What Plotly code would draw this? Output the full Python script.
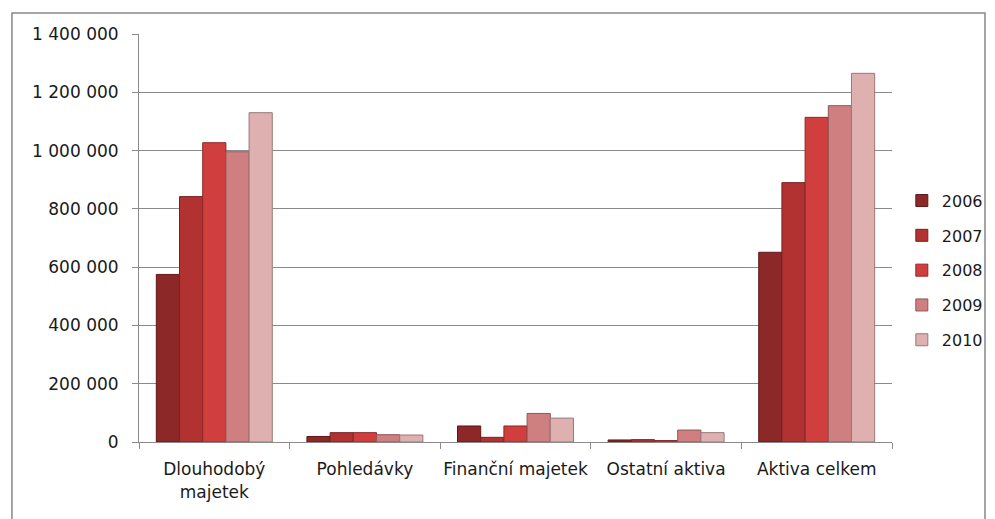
import plotly.graph_objects as go

CATEGORIES = ["Dlouhodobý<br>majetek", "Pohledávky", "Finanční majetek",
              "Ostatní aktiva", "Aktiva celkem"]
YEARS = ["2006", "2007", "2008", "2009", "2010"]

V2006 = [575000, 19000, 55000, 7000, 651000]
V2007 = [842000, 32000, 16000, 8000, 890000]
V2008 = [1027000, 32000, 55000, 5000, 1114000]
V2009 = [996000, 25000, 98000, 41000, 1154000]
V2010 = [1130000, 24000, 82000, 32000, 1265000]
SERIES = [V2006, V2007, V2008, V2009, V2010]

COLORS = ["#8c2828", "#b23232", "#d03e3e", "#cf7f7f", "#dfb0b0"]
EDGES = ["#5e1818", "#7a2020", "#8e2828", "#8e5656", "#9a7878"]

FONT = "DejaVu Sans"

fig = go.Figure()
for year, vals, col, edge in zip(YEARS, SERIES, COLORS, EDGES):
    fig.add_trace(go.Bar(
        x=CATEGORIES, y=vals, name=year, legendgroup=year,
        marker=dict(color=col, line=dict(color=edge, width=1)),
    ))

# the page body adds an 8px margin, so the figure sits 8px in from the window edge
fig.update_layout(
    autosize=False, width=979, height=511,
    barmode="group", bargap=0.23, bargroupgap=0,
    separators=", ",
    plot_bgcolor="white", paper_bgcolor="white",
    font=dict(family=FONT, size=17, color="#1a1a1a"),
    margin=dict(l=131, r=95, t=26, b=77),
    legend=dict(xref="container", yref="container", x=0.913, y=0.487,
                yanchor="middle", xanchor="left",
                font=dict(size=16), itemwidth=30, tracegroupgap=11,
                bgcolor="rgba(0,0,0,0)"),
    shapes=[dict(type="rect", xref="paper", yref="paper",
                 x0=-0.1687, x1=1.1235, y0=-0.3, y1=1.0515,
                 line=dict(color="#888888", width=1.5))],
)
fig.update_yaxes(
    range=[0, 1400000], dtick=200000, tickformat=",d",
    showgrid=True, gridcolor="#8a8a8a", gridwidth=1,
    showline=True, linecolor="#8a8a8a", ticks="outside", ticklen=6,
    tickcolor="#8a8a8a", zeroline=False, ticklabelstandoff=10,
    automargin=False,
)
fig.update_xaxes(
    showline=True, linecolor="#8a8a8a", ticks="outside", ticklen=6,
    tickcolor="#8a8a8a", tickson="boundaries", ticklabelstandoff=12,
    tickangle=0, automargin=False,
)

fig.write_html("out.html")
